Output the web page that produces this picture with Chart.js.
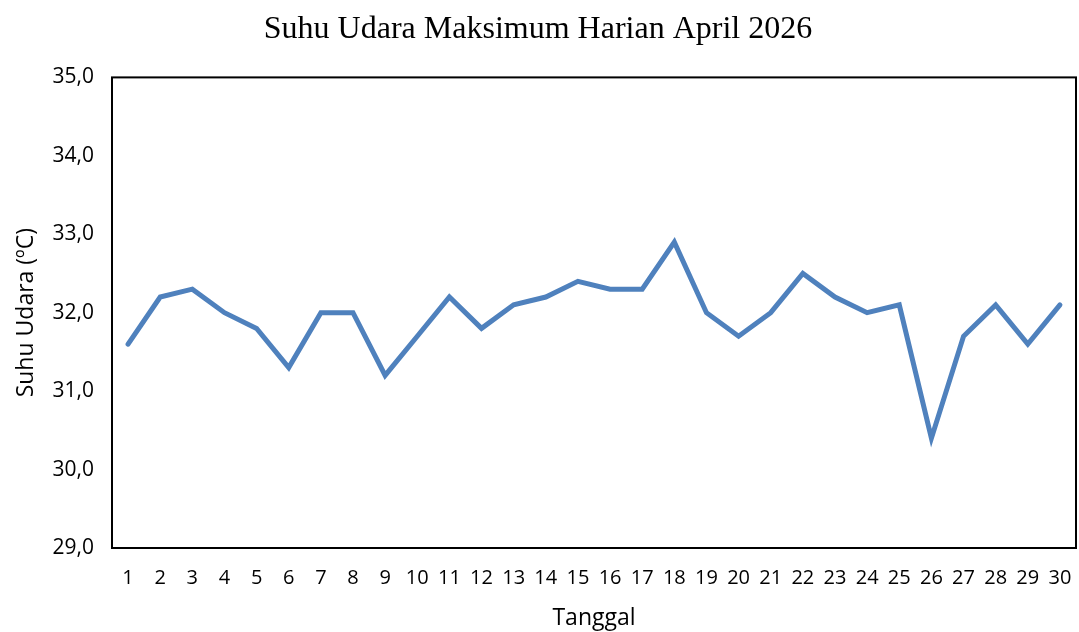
<!DOCTYPE html>
<html>
<head>
<meta charset="utf-8">
<script src="https://cdn.jsdelivr.net/npm/chart.js@4"></script>
<style>
  html, body { margin: 0; padding: 0; background: #fff; }
  #wrap { width: 1079px; height: 632px; }
</style>
</head>
<body>
<div id="wrap"><canvas id="suhu"></canvas></div>
<script>
const tanggal = Array.from({ length: 30 }, (_, i) => String(i + 1))
const suhuMaks = [
    31.6, 32.2, 32.3, 32.0, 31.8, 31.3, 32.0, 32.0, 31.2, 31.7,
    32.2, 31.8, 32.1, 32.2, 32.4, 32.3, 32.3, 32.9, 32.0, 31.7,
    32.0, 32.5, 32.2, 32.0, 32.1, 30.4, 31.7, 32.1, 31.6, 32.1
]
const yMin = 29
const yMax = 35

const frame = {
    id: 'frame',
    afterDatasetsDraw(chart) {
        const { ctx, chartArea: a } = chart
        ctx.save()
        ctx.strokeStyle = '#000'
        ctx.lineWidth = 2
        ctx.strokeRect(a.left, a.top, a.right - a.left, a.bottom - a.top)
        ctx.restore()
    }
}

const sans = "'Open Sans', 'Liberation Sans', sans-serif"

new Chart(
    document.getElementById('suhu'),
    {
        type: 'line',
        data: {
            labels: tanggal,
            datasets: [{
                label: 'Suhu Udara',
                data: suhuMaks,
                borderColor: '#4F81BD',
                backgroundColor: '#4F81BD',
                borderWidth: 5,
                pointRadius: 0,
                tension: 0,
                borderCapStyle: 'round',
                borderJoinStyle: 'miter'
            }]
        },
        options: {
            responsive: true,
            maintainAspectRatio: false,
            animation: false,
            layout: { padding: { left: 0, right: 3, top: 0, bottom: 0 } },
            plugins: {
                legend: { display: false },
                tooltip: { enabled: false },
                title: {
                    display: true,
                    text: 'Suhu Udara Maksimum Harian April 2026',
                    color: '#000',
                    font: { family: "'Liberation Serif', 'Times New Roman', serif", size: 32, weight: 'normal' },
                    padding: { top: 10, bottom: 29 }
                }
            },
            scales: {
                x: {
                    offset: true,
                    grid: { display: false, drawTicks: false, offset: true },
                    border: { display: false },
                    ticks: {
                        color: '#000',
                        font: { family: sans, size: 20 },
                        padding: 18,
                        maxRotation: 0,
                        autoSkip: false
                    },
                    title: {
                        display: true,
                        text: 'Tanggal',
                        color: '#000',
                        font: { family: sans, size: 23 },
                        padding: { top: 4, bottom: 0 }
                    },
                    afterFit: (s) => {
                        s.height = 84
                        s.paddingLeft = 0
                        s.paddingRight = 0
                    }
                },
                y: {
                    min: yMin,
                    max: yMax,
                    grid: { display: false, drawTicks: false },
                    border: { display: false },
                    ticks: {
                        stepSize: 1,
                        color: '#000',
                        font: { family: sans, size: 21 },
                        padding: 18,
                        callback: (v) => v.toFixed(1).replace('.', ',')
                    },
                    title: {
                        display: true,
                        text: 'Suhu Udara (ºC)',
                        color: '#000',
                        font: { family: sans, size: 23 },
                        padding: { top: 13, bottom: 4 }
                    },
                    afterFit: (s) => { s.width = 112 }
                }
            }
        },
        plugins: [frame]
    }
)
</script>
</body>
</html>
